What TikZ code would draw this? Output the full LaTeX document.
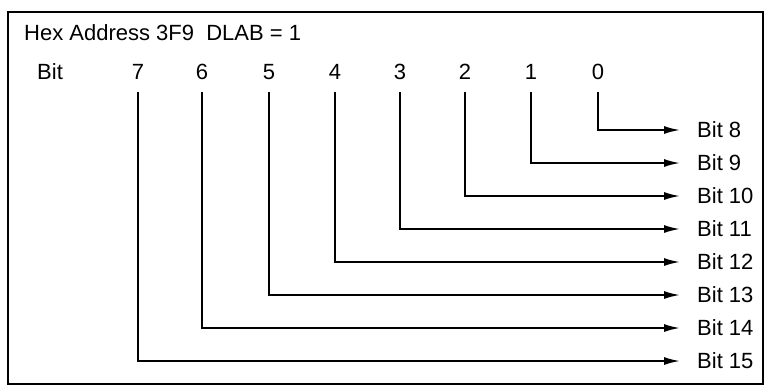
\documentclass[tikz,border=0pt]{standalone}
\usepackage{fontspec}
\setmainfont{Liberation Sans}
\usetikzlibrary{arrows.meta}

\begin{document}
\begin{tikzpicture}[
                x=1pt, y=-1pt,
                lbl/.style={inner sep=0pt, font=\fontsize{22}{26}\selectfont},
                wire/.style={line width=1.8pt, -{Latex[length=16pt,width=8pt]}, shorten <=12pt, shorten >=17pt}
            ]
                \useasboundingbox (0,0) rectangle (765,389);
                \draw[line width=1.8pt] (8,12) rectangle (763,384);
                \node[lbl, anchor=west] (title) at (24,33) {Hex Address 3F9\ \ DLAB = 1};
                \node[lbl, anchor=west] (bit) at (37,72) {Bit};
                \foreach \d/\x in {7/138,6/202,5/269,4/335,3/400,2/465,1/531,0/598} {
                    \pgfmathtruncatemacro{\n}{8+\d}
                    \node[lbl] (b\d) at (\x,72) {\d};
                    \node[lbl, anchor=west] (o\n) at (697,130+33*\d) {Bit \n};
                    \draw[wire] (b\d) |- (o\n);
                }
            \end{tikzpicture}
\end{document}
